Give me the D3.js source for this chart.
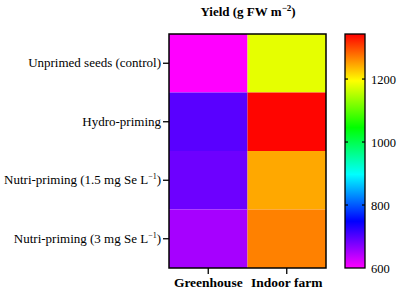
<!DOCTYPE html>
<html>
<head>
<meta charset="utf-8">
<script src="https://cdn.jsdelivr.net/npm/d3@7"></script>
<style>
  body { margin: 0; background: #fff; }
</style>
</head>
<body>
<svg id="chart" width="401" height="291"></svg>
<script>
// data
const treatments = ['Unprimed seeds (control)', 'Hydro-priming', 'Nutri-priming (1.5 mg Se L', 'Nutri-priming (3 mg Se L'];
const locations = ['Greenhouse', 'Indoor farm'];
const greenhouse = [600, 697, 685, 652];
const indoorFarm = [1180, 1340, 1245, 1268];
const legendTicks = [600, 800, 1000, 1200];

const serif = '"Liberation Serif", "Times New Roman", serif';

const cells = [];
treatments.forEach((t, i) => {
  cells.push({ row: t, col: locations[0], value: greenhouse[i] });
  cells.push({ row: t, col: locations[1], value: indoorFarm[i] });
});

const svg = d3.select('#chart').style('font-family', serif);
const m = { left: 169, right: 326, top: 34, bottom: 268 };

const x = d3.scaleBand().domain(locations).range([m.left, m.right]);
const y = d3.scaleBand().domain(treatments).range([m.top, m.bottom]);

// rainbow map: magenta -> blue -> cyan -> green -> yellow -> red
const vmin = 600, vmax = 1343;
const stops = ['#ff00ff', '#0000ff', '#00ffff', '#00ff00', '#ffff00', '#ff0000'];
const color = d3.scaleLinear()
  .domain(stops.map((s, i) => vmin + i * (vmax - vmin) / (stops.length - 1)))
  .range(stops)
  .clamp(true);

svg.selectAll('rect.cell')
  .data(cells)
  .enter()
  .append('rect')
  .attr('class', 'cell')
  .attr('x', d => x(d.col))
  .attr('y', d => y(d.row))
  .attr('width', x.bandwidth())
  .attr('height', y.bandwidth())
  .attr('fill', d => color(d.value));

svg.append('rect')
  .attr('x', m.left).attr('y', m.top)
  .attr('width', m.right - m.left).attr('height', m.bottom - m.top)
  .attr('fill', 'none').attr('stroke', '#000').attr('stroke-width', 1.5);

// y axis
const yAxis = svg.append('g')
  .attr('transform', `translate(${m.left},0)`)
  .call(d3.axisLeft(y).tickSize(6).tickFormat(''));
yAxis.attr('font-family', serif);
yAxis.select('.domain').remove();
yAxis.selectAll('line').attr('stroke-width', 1.3);

yAxis.selectAll('.tick').each(function(d) {
  const t = d3.select(this).append('text')
    .attr('x', -8)
    .attr('dy', '0.32em')
    .attr('text-anchor', 'end')
    .attr('fill', '#000')
    .style('font-family', serif)
    .style('font-size', '13px');
  if (d.startsWith('Nutri')) {
    t.append('tspan').text(d);
    t.append('tspan').attr('dy', '-5').style('font-size', '8px').text('\u22121');
    t.append('tspan').attr('dy', '5').text(')');
  } else {
    t.text(d);
  }
});

// x axis
const xAxis = svg.append('g')
  .attr('transform', `translate(0,${m.bottom})`)
  .call(d3.axisBottom(x).tickSize(6).tickPadding(4));
xAxis.attr('font-family', serif);
xAxis.select('.domain').remove();
xAxis.selectAll('line').attr('stroke-width', 1.3);
xAxis.selectAll('text')
  .attr('y', 19)
  .attr('dy', 0)
  .style('font-family', serif)
  .style('font-size', '13.5px')
  .style('font-weight', 'bold');

// title
const title = svg.append('text')
  .attr('x', 248).attr('y', 16)
  .attr('text-anchor', 'middle')
  .style('font-size', '13px')
  .style('font-weight', 'bold');
title.append('tspan').text('Yield (g FW m');
title.append('tspan').attr('dy', '-5').style('font-size', '9px').text('\u22122');
title.append('tspan').attr('dy', '5').text(')');

// color bar
const cb = { x: 345, w: 20 };
const cy = d3.scaleLinear().domain([vmin, vmax]).range([m.bottom, m.top]);

const grad = svg.append('defs').append('linearGradient')
  .attr('id', 'grad')
  .attr('x1', 0).attr('y1', 1).attr('x2', 0).attr('y2', 0);
grad.selectAll('stop')
  .data(stops)
  .enter()
  .append('stop')
  .attr('offset', (d, i) => i / (stops.length - 1))
  .attr('stop-color', d => d);

svg.append('rect')
  .attr('x', cb.x).attr('y', m.top)
  .attr('width', cb.w).attr('height', m.bottom - m.top)
  .attr('fill', 'url(#grad)')
  .attr('stroke', '#000').attr('stroke-width', 1.3);

const cAxis = svg.append('g')
  .attr('transform', `translate(${cb.x + cb.w},0)`)
  .call(d3.axisRight(cy).tickValues(legendTicks).tickFormat(d3.format('d')).tickSize(0).tickPadding(6));
cAxis.attr('font-family', serif);
cAxis.select('.domain').remove();
cAxis.selectAll('text').style('font-family', serif).style('font-size', '12.5px');

// tick marks inside bar on both edges
svg.selectAll('line.cbtick')
  .data(legendTicks.slice(1))
  .enter()
  .append('line')
  .attr('x1', cb.x).attr('x2', cb.x + 3)
  .attr('y1', d => cy(d)).attr('y2', d => cy(d))
  .attr('stroke', '#000').attr('stroke-width', 1.2);
svg.selectAll('line.cbtick2')
  .data(legendTicks.slice(1))
  .enter()
  .append('line')
  .attr('x1', cb.x + cb.w - 3).attr('x2', cb.x + cb.w)
  .attr('y1', d => cy(d)).attr('y2', d => cy(d))
  .attr('stroke', '#000').attr('stroke-width', 1.2);
</script>
</body>
</html>
